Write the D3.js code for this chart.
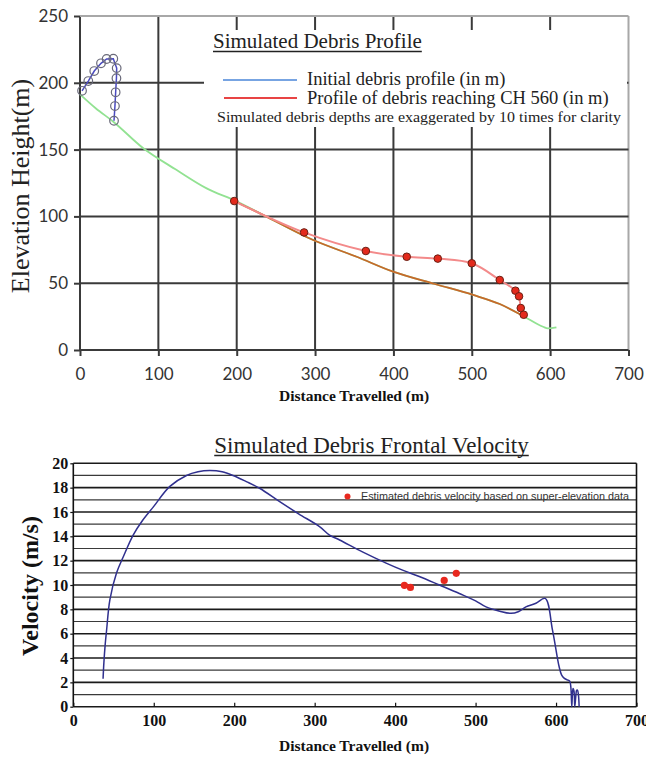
<!DOCTYPE html>
<html>
<head>
<meta charset="utf-8">
<script src="https://cdn.jsdelivr.net/npm/d3@7"></script>
<style>
body { margin: 0; background: #fff; }
svg { display: block; }
</style>
</head>
<body>
<div id="canvas"></div>
<script>
// ---- top chart data (Simulated Debris Profile) ----
var groundX = [0, 20, 42.5, 80.8, 123.4, 161.6, 199, 238, 297.6, 353, 399.6, 452.8, 501.7, 535.7, 565.4, 591, 597, 608];
var groundY = [191.4, 181, 170.9, 151, 134.7, 121, 111.5, 99.8, 82.3, 69.8, 58.6, 49.4, 41.2, 34.4, 25.5, 17.4, 16.2, 17];
var baseX = [198.6, 238, 297.6, 353, 399.6, 452.8, 501.7, 535.7, 563.4];
var baseY = [111, 99.8, 82.3, 69.8, 58.6, 49.4, 41.2, 34.4, 26.2];
var initX = [2.6, 10.6, 18.2, 26.8, 34, 42.5, 46.8, 46.5, 45.5, 44.6, 43.4];
var initY = [194, 201.3, 208.8, 214.6, 217.8, 218, 211, 203.4, 192.9, 182.6, 171.6];
var reachX = [196.8, 286, 364.8, 417, 456.6, 500, 535.7, 555.7, 560.3, 562.5, 566.3];
var reachY = [111.5, 88, 74.1, 69.8, 68.4, 64.9, 52.4, 44.4, 40.2, 31.4, 26.4];
var profXTicks = [0, 100, 200, 300, 400, 500, 600, 700];
var profYTicks = [0, 50, 100, 150, 200, 250];

// ---- bottom chart data (Simulated Debris Frontal Velocity) ----
var velX = [37, 38, 39.5, 41.4, 45.5, 53.8, 62, 74.4, 86, 99.3, 120, 140.7, 155, 169.6, 185, 198.5, 215, 231.6, 256.5, 280, 306, 318.5, 331, 360, 388.8, 410, 430, 455, 479.8, 500, 513, 530, 544, 553, 562.5, 575, 586.5, 595.6, 603.8, 607, 610, 614, 617, 618.4, 619.6, 620.4, 621.2, 622.3, 623.3, 624.6, 625.6, 626.6, 627.8, 628.7];
var velY = [2.3, 3.6, 5, 6.3, 8.8, 11, 12.3, 14.1, 15.3, 16.4, 18.1, 19, 19.3, 19.4, 19.3, 19, 18.5, 17.95, 16.85, 15.85, 14.8, 14.1, 13.7, 12.7, 11.8, 11.2, 10.7, 10, 9.3, 8.7, 8.2, 7.85, 7.67, 7.8, 8.2, 8.5, 8.9, 6.3, 3.3, 2.6, 2.35, 2.2, 2.1, 1.6, 0, 1.1, 1.5, 1.3, 0, 0.9, 1.35, 1.37, 1.0, 0];
var estX = [411.5, 419, 461, 476];
var estY = [9.97, 9.8, 10.38, 10.96];
var velXTicks = [0, 100, 200, 300, 400, 500, 600, 700];
var velYTicks = [0, 2, 4, 6, 8, 10, 12, 14, 16, 18, 20];

function zip(xs, ys) {
    return xs.map(function (x, i) { return [x, ys[i]]; });
}

function init() {
    var svg = d3.select("#canvas").append("svg")
        .attr("width", 646)
        .attr("height", 758);
    drawProfile(svg);
    drawVelocity(svg);
}

function drawProfile(svg) {
    var x = d3.scaleLinear().domain([0, 700]).range([80, 628.5]);
    var y = d3.scaleLinear().domain([0, 250]).range([350, 16]);
    var g = svg.append("g");

    // grid
    g.selectAll("line.vgrid")
        .data(profXTicks)
        .enter().append("line")
        .attr("x1", function (d) { return x(d); })
        .attr("x2", function (d) { return x(d); })
        .attr("y1", y(0))
        .attr("y2", y(250))
        .attr("stroke", function (d) { return d === 700 ? "#a8a8a8" : "#3a3a3a"; })
        .attr("stroke-width", 2);
    g.selectAll("line.hgrid")
        .data(profYTicks)
        .enter().append("line")
        .attr("x1", x(0))
        .attr("x2", x(700))
        .attr("y1", function (d) { return y(d); })
        .attr("y2", function (d) { return y(d); })
        .attr("stroke", function (d) { return d === 250 ? "#a8a8a8" : "#3a3a3a"; })
        .attr("stroke-width", 2);

    // axes
    var xAxis = g.append("g")
        .attr("transform", "translate(0," + y(0) + ")")
        .call(d3.axisBottom(x).tickValues(profXTicks).tickSize(6).tickPadding(12));
    var yAxis = g.append("g")
        .attr("transform", "translate(" + x(0) + ",0)")
        .call(d3.axisLeft(y).tickValues(profYTicks).tickSize(6).tickPadding(6));
    [xAxis, yAxis].forEach(function (a) {
        a.select(".domain").remove();
        a.selectAll(".tick line").attr("stroke", "#3a3a3a").attr("stroke-width", 2);
        a.selectAll(".tick text")
            .attr("fill", "#333")
            .style("font-family", "Lato, 'Open Sans', sans-serif")
            .style("font-size", "17px");
    });

    // legend box (white, hides the grid behind)
    g.append("rect")
        .attr("x", 204)
        .attr("y", 30)
        .attr("width", 423)
        .attr("height", 97)
        .attr("fill", "#fff");

    var line = d3.line()
        .x(function (d) { return x(d[0]); })
        .y(function (d) { return y(d[1]); });

    g.append("path")
        .datum(zip(groundX, groundY))
        .attr("d", line.curve(d3.curveMonotoneX))
        .attr("fill", "none")
        .attr("stroke", "#92e292")
        .attr("stroke-width", 1.8);
    g.append("path")
        .datum(zip(baseX, baseY))
        .attr("d", line.curve(d3.curveMonotoneX))
        .attr("fill", "none")
        .attr("stroke", "#c8682a")
        .attr("stroke-width", 1.8);
    g.append("path")
        .datum(zip(reachX, reachY))
        .attr("d", line.curve(d3.curveCatmullRom))
        .attr("fill", "none")
        .attr("stroke", "#f38a8a")
        .attr("stroke-width", 2);
    g.selectAll("circle.reach")
        .data(zip(reachX, reachY))
        .enter().append("circle")
        .attr("cx", function (d) { return x(d[0]); })
        .attr("cy", function (d) { return y(d[1]); })
        .attr("r", 3.8)
        .attr("fill", "#e32a1c")
        .attr("stroke", "#6b2014")
        .attr("stroke-width", 1);

    g.append("path")
        .datum(zip(initX, initY))
        .attr("d", line.curve(d3.curveLinear))
        .attr("fill", "none")
        .attr("stroke", "#4a4ac0")
        .attr("stroke-width", 1.5);
    g.selectAll("circle.init")
        .data(zip(initX, initY))
        .enter().append("circle")
        .attr("cx", function (d) { return x(d[0]); })
        .attr("cy", function (d) { return y(d[1]); })
        .attr("r", 4.3)
        .attr("fill", "none")
        .attr("stroke", "#6a6a7a")
        .attr("stroke-width", 1.2);

    // legend
    var serif = "'Liberation Serif', 'DejaVu Serif', serif";
    var title = g.append("text")
        .attr("x", 213)
        .attr("y", 47.5)
        .style("font-family", serif)
        .style("font-size", "21px")
        .attr("fill", "#222")
        .text("Simulated Debris Profile");
    var tw = title.node().getComputedTextLength();
    g.append("line")
        .attr("x1", 213).attr("x2", 213 + tw)
        .attr("y1", 51.5).attr("y2", 51.5)
        .attr("stroke", "#222").attr("stroke-width", 1.3);

    g.append("line")
        .attr("x1", 223).attr("x2", 297)
        .attr("y1", 80).attr("y2", 80)
        .attr("stroke", "#4a86d8").attr("stroke-width", 1.5);
    g.append("text")
        .attr("x", 307).attr("y", 84.5)
        .style("font-family", serif).style("font-size", "18.5px")
        .attr("fill", "#222")
        .text("Initial debris profile (in m)");
    g.append("line")
        .attr("x1", 224).attr("x2", 297)
        .attr("y1", 98).attr("y2", 98)
        .attr("stroke", "#e84444").attr("stroke-width", 1.8);
    g.append("text")
        .attr("x", 307).attr("y", 103.5)
        .style("font-family", serif).style("font-size", "18.5px")
        .attr("fill", "#222")
        .text("Profile of debris reaching CH 560 (in m)");
    g.append("text")
        .attr("x", 217).attr("y", 121.5)
        .style("font-family", serif).style("font-size", "14.5px")
        .attr("fill", "#222")
        .attr("textLength", 404)
        .attr("lengthAdjust", "spacingAndGlyphs")
        .text("Simulated debris depths are exaggerated by 10 times for clarity");

    // axis titles
    g.append("text")
        .attr("transform", "translate(29," + 186 + ") rotate(-90)")
        .attr("text-anchor", "middle")
        .style("font-family", serif)
        .style("font-size", "26px")
        .attr("fill", "#222")
        .text("Elevation Height(m)");
    g.append("text")
        .attr("x", 354)
        .attr("y", 401)
        .attr("text-anchor", "middle")
        .style("font-family", serif)
        .style("font-size", "15.5px")
        .style("font-weight", "bold")
        .attr("fill", "#111")
        .text("Distance Travelled (m)");
}

function drawVelocity(svg) {
    var x = d3.scaleLinear().domain([0, 700]).range([73.3, 636.5]);
    var y = d3.scaleLinear().domain([0, 20]).range([706.7, 463.3]);
    var g = svg.append("g");
    var serif = "'Liberation Serif', 'DejaVu Serif', serif";

    // horizontal grid, one line per unit
    g.selectAll("line.hgrid")
        .data(y.ticks(20))
        .enter().append("line")
        .attr("x1", x(0))
        .attr("x2", x(700))
        .attr("y1", function (d) { return y(d); })
        .attr("y2", function (d) { return y(d); })
        .attr("stroke", function (d) { return d % 2 === 0 ? "#1a1a1a" : "#3a3a3a"; })
        .attr("stroke-width", function (d) { return d % 2 === 0 ? 1.6 : 1.2; });
    g.append("line")
        .attr("x1", x(0)).attr("x2", x(0))
        .attr("y1", y(0)).attr("y2", y(20))
        .attr("stroke", "#111").attr("stroke-width", 1.6);
    g.append("line")
        .attr("x1", x(700)).attr("x2", x(700))
        .attr("y1", y(0)).attr("y2", y(20))
        .attr("stroke", "#111").attr("stroke-width", 1.6);

    var xAxis = g.append("g")
        .attr("transform", "translate(0," + y(0) + ")")
        .call(d3.axisBottom(x).tickValues(velXTicks).tickSizeInner(-4).tickSizeOuter(0).tickPadding(8));
    var yAxis = g.append("g")
        .attr("transform", "translate(" + x(0) + ",0)")
        .call(d3.axisLeft(y).tickValues(velYTicks).tickSizeInner(3).tickSizeOuter(0).tickPadding(2));
    [xAxis, yAxis].forEach(function (a) {
        a.select(".domain").remove();
        a.selectAll(".tick line").attr("stroke", "#111").attr("stroke-width", 1.2);
        a.selectAll(".tick text")
            .attr("fill", "#111")
            .style("font-family", serif)
            .style("font-size", "16px")
            .style("font-weight", "bold");
    });
    xAxis.selectAll(".tick text").attr("dy", "0.71em");

    var line = d3.line()
        .x(function (d) { return x(d[0]); })
        .y(function (d) { return y(d[1]); })
        .curve(d3.curveCatmullRom.alpha(0.5));
    g.append("path")
        .datum(zip(velX, velY))
        .attr("d", line)
        .attr("fill", "none")
        .attr("stroke", "#30308e")
        .attr("stroke-width", 1.5)
        .attr("stroke-linejoin", "round");

    g.selectAll("circle.est")
        .data(zip(estX, estY))
        .enter().append("circle")
        .attr("cx", function (d) { return x(d[0]); })
        .attr("cy", function (d) { return y(d[1]); })
        .attr("r", 3.6)
        .attr("fill", "#e8281e");

    // legend
    g.append("circle")
        .attr("cx", 347.5).attr("cy", 496.5)
        .attr("r", 3)
        .attr("fill", "#e8281e");
    g.append("text")
        .attr("x", 361).attr("y", 500)
        .style("font-family", "'Liberation Sans', Arial, sans-serif")
        .style("font-size", "10.5px")
        .attr("fill", "#333")
        .attr("textLength", 268)
        .attr("lengthAdjust", "spacingAndGlyphs")
        .text("Estimated debris velocity based on super-elevation data");

    // titles
    var title = g.append("text")
        .attr("x", 371.5)
        .attr("y", 452.5)
        .attr("text-anchor", "middle")
        .style("font-family", serif)
        .style("font-size", "23px")
        .attr("fill", "#222")
        .text("Simulated Debris Frontal Velocity");
    var tw = title.node().getComputedTextLength();
    g.append("line")
        .attr("x1", 371.5 - tw / 2).attr("x2", 371.5 + tw / 2)
        .attr("y1", 455.5).attr("y2", 455.5)
        .attr("stroke", "#222").attr("stroke-width", 1.3);

    g.append("text")
        .attr("transform", "translate(37.5,586) rotate(-90)")
        .attr("text-anchor", "middle")
        .style("font-family", serif)
        .style("font-size", "24px")
        .style("font-weight", "bold")
        .attr("fill", "#111")
        .text("Velocity (m/s)");
    g.append("text")
        .attr("x", 354)
        .attr("y", 751)
        .attr("text-anchor", "middle")
        .style("font-family", serif)
        .style("font-size", "15.5px")
        .style("font-weight", "bold")
        .attr("fill", "#111")
        .text("Distance Travelled (m)");
}

window.onload = init;
</script>
</body>
</html>
